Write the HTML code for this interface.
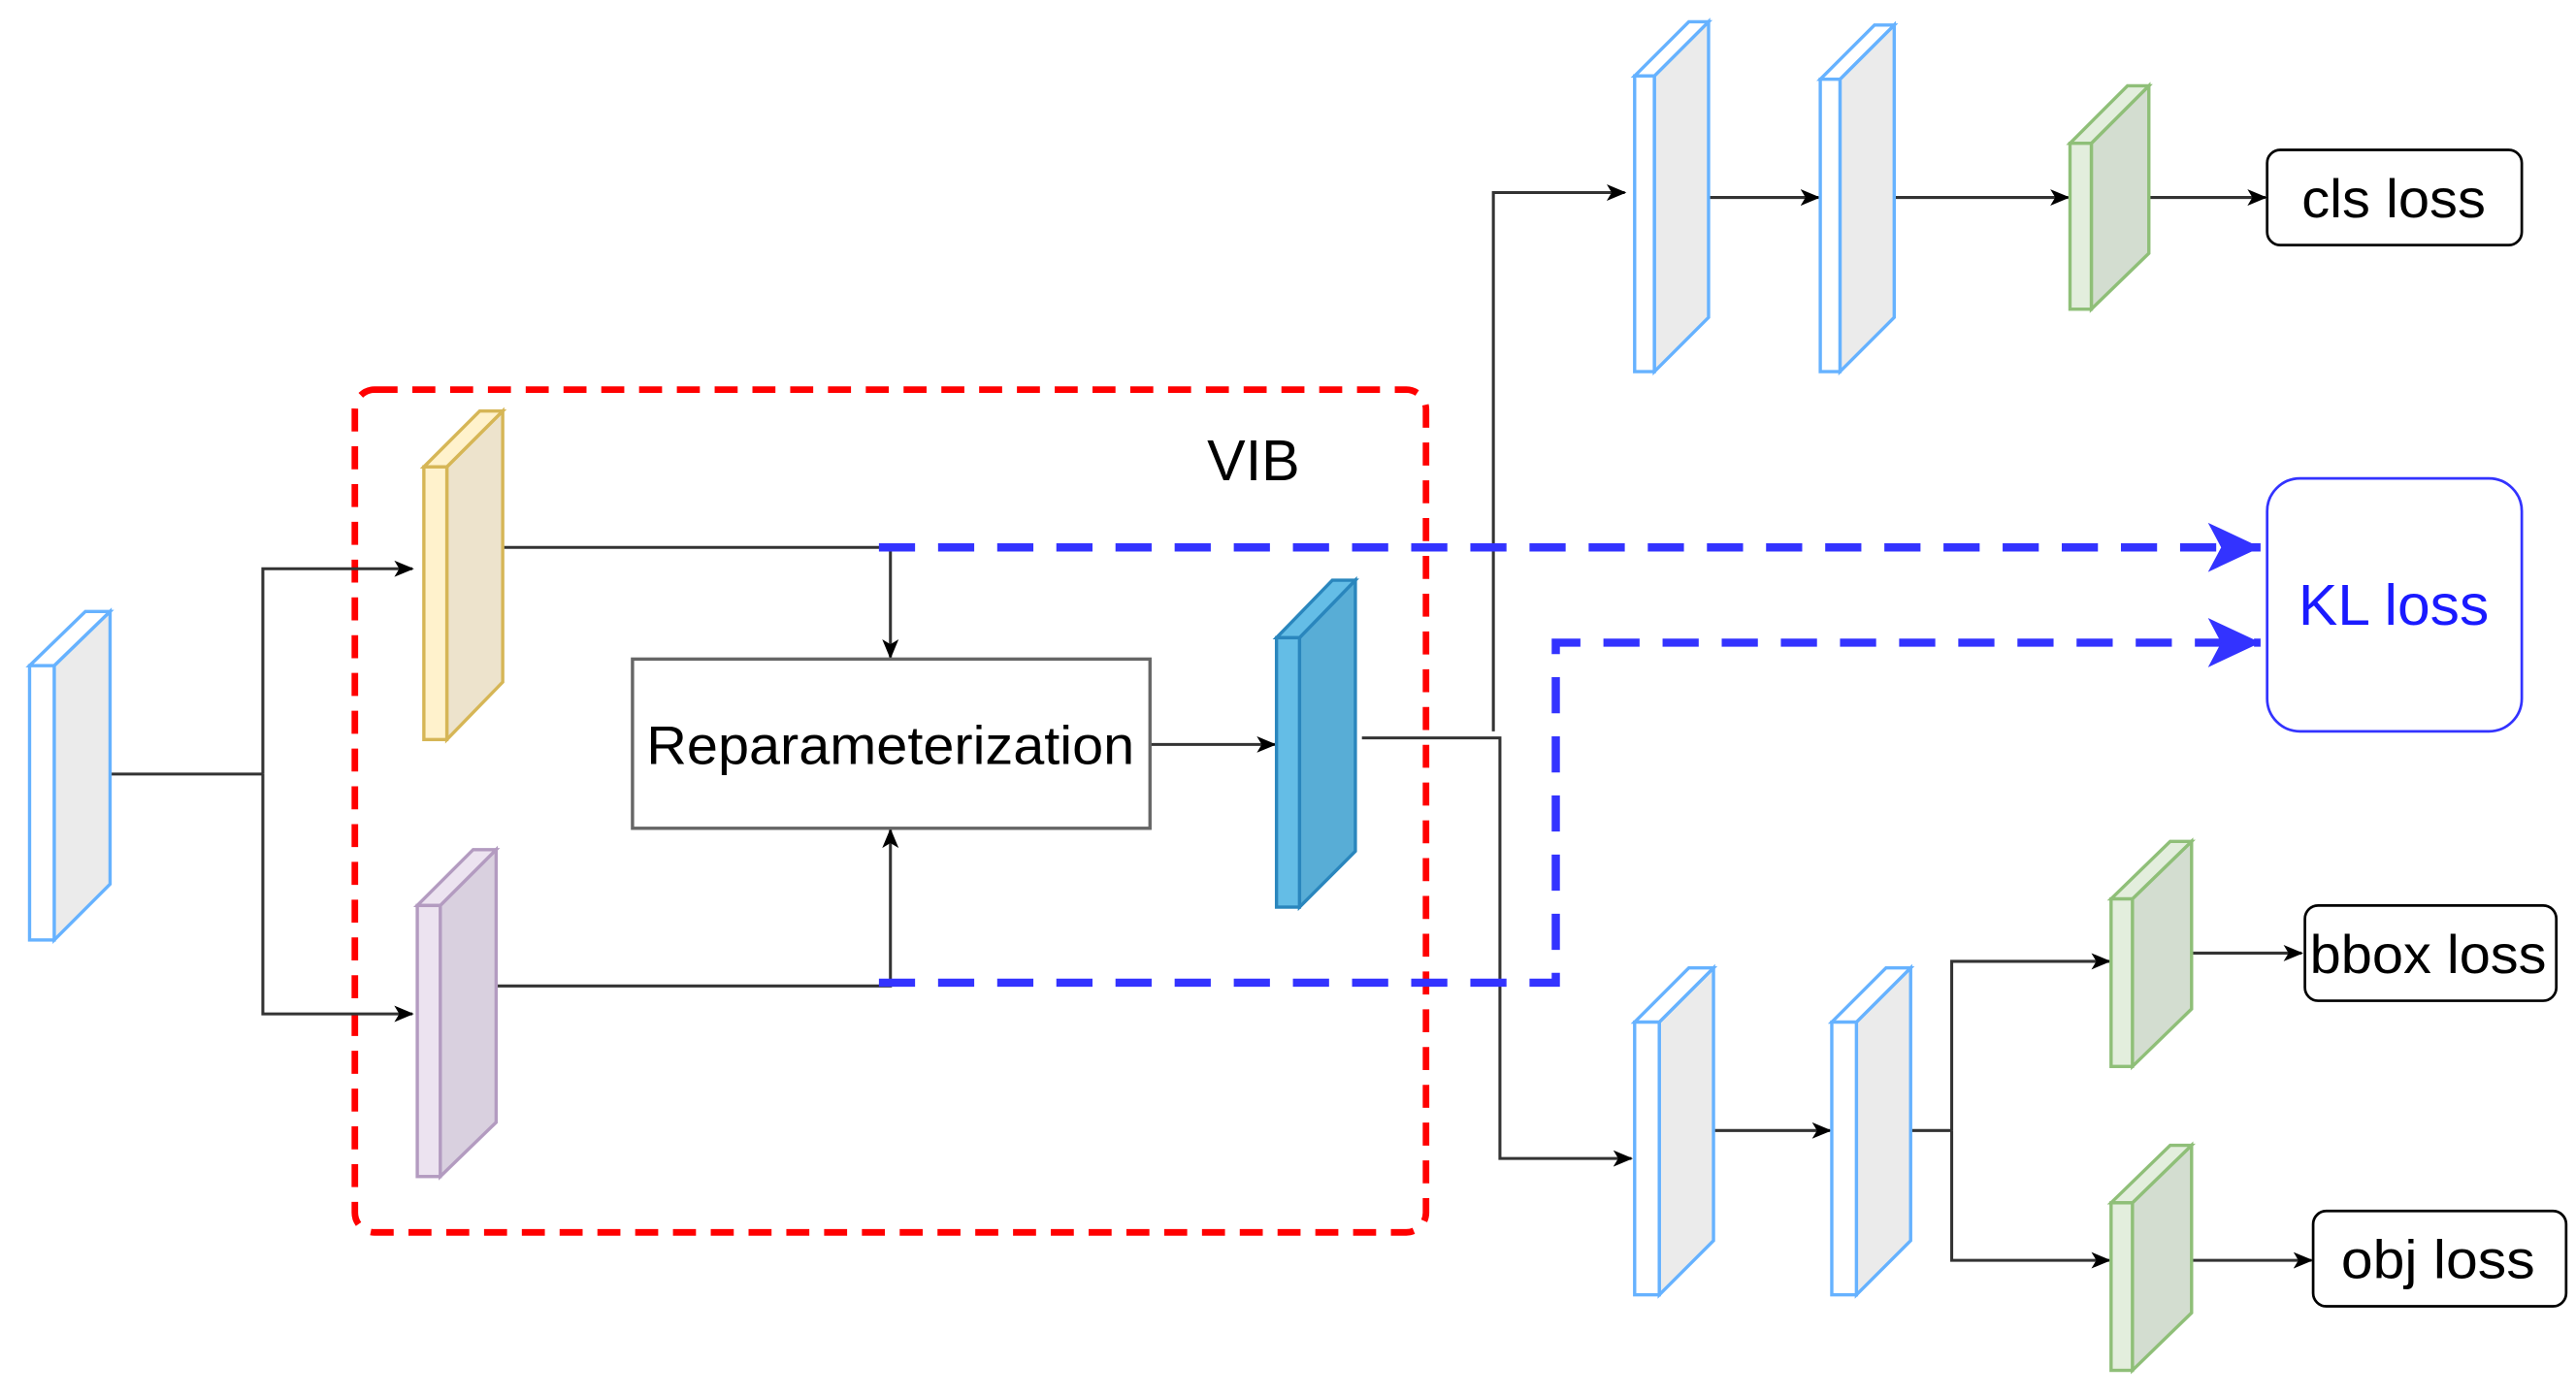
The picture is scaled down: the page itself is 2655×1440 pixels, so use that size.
<!DOCTYPE html>
<html><head><meta charset="utf-8"><style>html,body{margin:0;padding:0;background:#fff}svg{display:block}text{font-family:"Liberation Sans",sans-serif}</style></head>
<body>
<svg width="2655" height="1440" viewBox="0 0 1568 850" xmlns="http://www.w3.org/2000/svg">
<defs>
<marker id="a" markerWidth="12" markerHeight="12" refX="11" refY="6" orient="auto" markerUnits="userSpaceOnUse"><path d="M0,1 L12,6 L0,11 L3,6 Z" fill="#000"/></marker>
<marker id="b" markerWidth="34" markerHeight="32" refX="32" refY="16" orient="auto" markerUnits="userSpaceOnUse"><path d="M0,1 L32,16 L0,31 L8,16 Z" fill="#3333ff"/></marker>
</defs>
<rect x="216" y="237" width="652" height="513" rx="12" fill="none" stroke="#ff0000" stroke-width="4" stroke-dasharray="14,9"/>
<text x="763" y="292" font-size="35" text-anchor="middle">VIB</text>
<g fill="none" stroke="#333" stroke-width="1.8">
<path d="M67,471 H160"/>
<path d="M160,471 V346 H251" marker-end="url(#a)"/>
<path d="M160,471 V617 H251" marker-end="url(#a)"/>
<path d="M306,333 H542 V400" marker-end="url(#a)"/>
<path d="M302,600 H542 V505" marker-end="url(#a)"/>
<path d="M700,453 H776" marker-end="url(#a)"/>
<path d="M829,449 H913 V705 H993" marker-end="url(#a)"/>
<path d="M909,445 V117 H989" marker-end="url(#a)"/>
<path d="M1040,120 H1107" marker-end="url(#a)"/>
<path d="M1153,120 H1259" marker-end="url(#a)"/>
<path d="M1308,120 H1379" marker-end="url(#a)"/>
<path d="M1043,688 H1114" marker-end="url(#a)"/>
<path d="M1163,688 H1188"/>
<path d="M1188,688 V585 H1284" marker-end="url(#a)"/>
<path d="M1188,688 V767 H1284" marker-end="url(#a)"/>
<path d="M1334,580 H1401" marker-end="url(#a)"/>
<path d="M1334,767 H1407" marker-end="url(#a)"/>
</g>
<g stroke-width="2">
<g stroke="#66b2ff"><polygon points="33,405 67,372 67,538 33,572" fill="#ebebeb"/><polygon points="18,405 52,372 67,372 33,405" fill="#fff"/><rect x="18" y="405" width="15" height="167" fill="#fff"/></g>
<g stroke="#d6b656"><polygon points="272,284 306,250 306,415 272,450" fill="#ede3cc"/><polygon points="258,284 292,250 306,250 272,284" fill="#fff2cc"/><rect x="258" y="284" width="14" height="166" fill="#fff2cc"/></g>
<g stroke="#b39bc0"><polygon points="268,551 302,517 302,683 268,716" fill="#d9d0df"/><polygon points="254,551 288,517 302,517 268,551" fill="#ece3f0"/><rect x="254" y="551" width="14" height="165" fill="#ece3f0"/></g>
<g stroke="#2a86bd"><polygon points="791,388 825,353 825,518 791,552" fill="#58add6"/><polygon points="777,388 811,353 825,353 791,388" fill="#64bde6"/><rect x="777" y="388" width="14" height="164" fill="#64bde6"/></g>
<g stroke="#66b2ff"><polygon points="1007,46 1040,13 1040,193 1007,226" fill="#ebebeb"/><polygon points="995,46 1028,13 1040,13 1007,46" fill="#fff"/><rect x="995" y="46" width="12" height="180" fill="#fff"/></g>
<g stroke="#66b2ff"><polygon points="1120,48 1153,15 1153,193 1120,226" fill="#ebebeb"/><polygon points="1108,48 1141,15 1153,15 1120,48" fill="#fff"/><rect x="1108" y="48" width="12" height="178" fill="#fff"/></g>
<g stroke="#8fbf78"><polygon points="1273,87 1308,52 1308,154 1273,188" fill="#d3ddd0"/><polygon points="1260,87 1295,52 1308,52 1273,87" fill="#e3eedd"/><rect x="1260" y="87" width="13" height="101" fill="#e3eedd"/></g>
<g stroke="#66b2ff"><polygon points="1010,622 1043,589 1043,755 1010,788" fill="#ebebeb"/><polygon points="995,622 1028,589 1043,589 1010,622" fill="#fff"/><rect x="995" y="622" width="15" height="166" fill="#fff"/></g>
<g stroke="#66b2ff"><polygon points="1130,622 1163,589 1163,755 1130,788" fill="#ebebeb"/><polygon points="1115,622 1148,589 1163,589 1130,622" fill="#fff"/><rect x="1115" y="622" width="15" height="166" fill="#fff"/></g>
<g stroke="#8fbf78"><polygon points="1298,547 1334,512 1334,614 1298,649" fill="#d3ddd0"/><polygon points="1285,547 1321,512 1334,512 1298,547" fill="#e3eedd"/><rect x="1285" y="547" width="13" height="102" fill="#e3eedd"/></g>
<g stroke="#8fbf78"><polygon points="1298,732 1334,697 1334,799 1298,834" fill="#d3ddd0"/><polygon points="1285,732 1321,697 1334,697 1298,732" fill="#e3eedd"/><rect x="1285" y="732" width="13" height="102" fill="#e3eedd"/></g>
</g>
<g fill="none" stroke="#3333ff" stroke-width="5" stroke-dasharray="22,14">
<path d="M535,333 H1376" marker-end="url(#b)"/>
<path d="M535,598 H947 V391 H1376" marker-end="url(#b)"/>
</g>
<rect x="385" y="401" width="315" height="103" fill="#fff" stroke="#666" stroke-width="2"/>
<text x="542" y="465" font-size="33" text-anchor="middle" textLength="297" lengthAdjust="spacingAndGlyphs">Reparameterization</text>
<rect x="1380" y="291" width="155" height="154" rx="20" fill="#fff" stroke="#3333ff" stroke-width="1.6"/>
<text x="1457" y="380" font-size="35" text-anchor="middle" fill="#1a1aff" textLength="116" lengthAdjust="spacingAndGlyphs">KL loss</text>
<rect x="1380" y="91" width="155" height="58" rx="8" fill="#fff" stroke="#000" stroke-width="1.6"/>
<text x="1457" y="132" font-size="33" text-anchor="middle" textLength="112" lengthAdjust="spacingAndGlyphs">cls loss</text>
<rect x="1403" y="551" width="153" height="58" rx="8" fill="#fff" stroke="#000" stroke-width="1.6"/>
<text x="1478" y="592" font-size="33" text-anchor="middle" textLength="144" lengthAdjust="spacingAndGlyphs">bbox loss</text>
<rect x="1408" y="737" width="154" height="58" rx="8" fill="#fff" stroke="#000" stroke-width="1.6"/>
<text x="1484" y="778" font-size="33" text-anchor="middle" textLength="118" lengthAdjust="spacingAndGlyphs">obj loss</text>
</svg>
</body></html>
